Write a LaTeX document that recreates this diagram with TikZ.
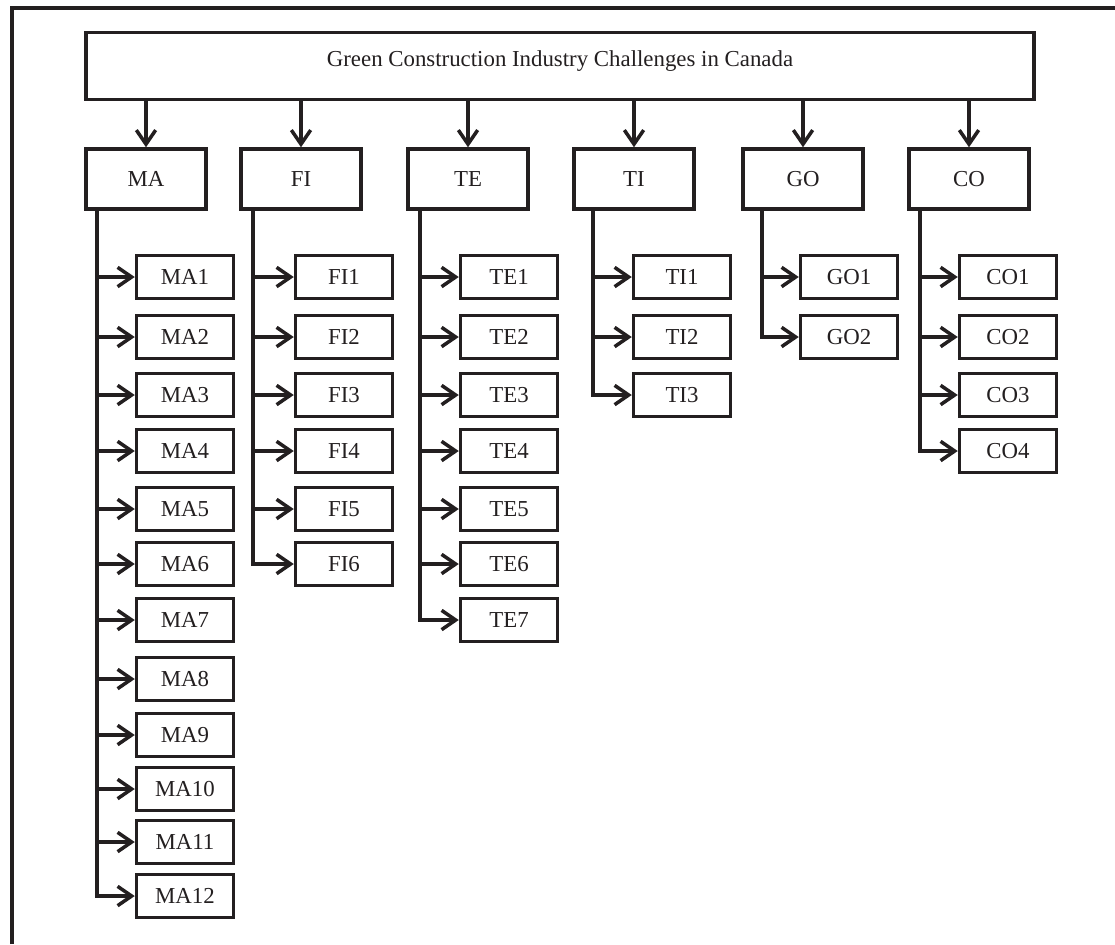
\documentclass[tikz,border=0pt]{standalone}
\usepackage{fontspec}
\setmainfont{Liberation Serif}
\usepackage{xcolor}
\definecolor{inkblack}{RGB}{35,31,32}
\usepackage{tikz}
\usetikzlibrary{arrows.meta}

\begin{document}
\begin{tikzpicture}[x=0.02cm, y=-0.02cm, line width=2pt, color=inkblack,
  every node/.style={font=\fontsize{13}{15}\selectfont},
  headbox/.style={draw, rectangle, inner sep=0pt, minimum width=18.96cm, minimum height=1.34cm, text height=1ex, text depth=1ex},
  catbox/.style={draw, rectangle, inner sep=0pt, minimum width=2.4cm, minimum height=1.2cm},
  itembox/.style={draw, rectangle, inner sep=0pt, minimum width=1.94cm, minimum height=0.86cm},
  link/.style={-{Straight Barb[length=8pt, width=11pt]}}]
  \useasboundingbox (0,0) rectangle (1115,944);
  \draw[line width=2.2pt] (12,944) -- (12,8) -- (1115,8);
  \node[headbox] (top) at (560,66) {Green Construction Industry Challenges in Canada};
  \foreach \name/\lab/\cx/\n/\tx/\ix in {ma/MA/146/12/97/185, fi/FI/301/6/253/344, te/TE/468/7/420/509,
      ti/TI/634/3/593/682, go/GO/803/2/762/849, co/CO/969/4/920/1008} {
    \node[catbox] (\name) at (\cx,179) {\lab};
    \draw[link] (\name.north |- top.south) -- (\name.north);
    \path (\tx,0) coordinate (\name-x);
    \coordinate (\name-t) at (\name-x |- \name.south);
    \foreach \i/\y in {1/277, 2/337, 3/395, 4/451, 5/509, 6/564, 7/620, 8/679, 9/735, 10/789, 11/842, 12/896} {
      \ifnum\i>\n\else
        \node[itembox] (\name\i) at (\ix,\y) {\lab\i};
        \draw[link] (\name\i.west -| \name-t) -- (\name\i.west);
      \fi
    }
    \draw[line cap=rect] (\name-t) -- (\name\n.west -| \name-t);
  }
\end{tikzpicture}
\end{document}
